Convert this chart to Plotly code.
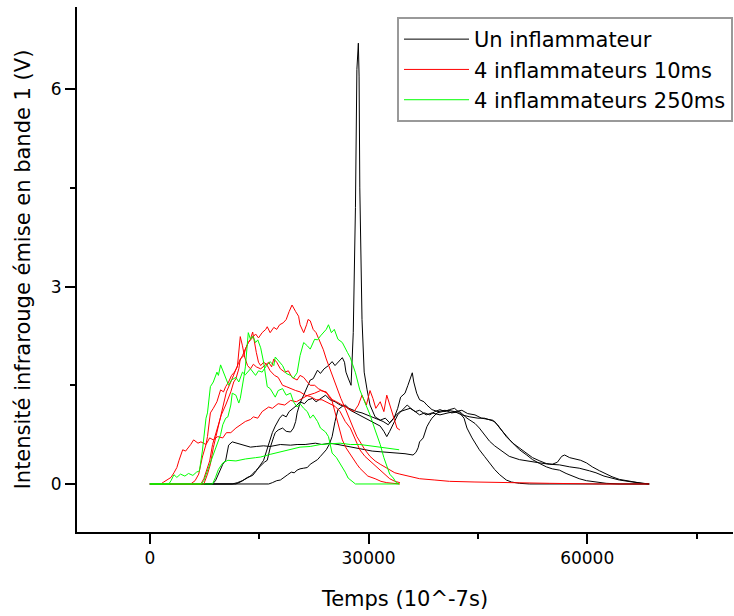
import plotly.graph_objects as go

# ---------------- data (time in 10^-7 s, intensity in V) ----------------
# "Un inflammateur" (black) - four runs
t_black1 = [0, 11800, 12400, 13100, 13800, 14500, 15200, 15700, 16100, 16500, 17000, 17200, 17600, 18200, 18700, 19300, 19700, 20000, 20200, 20600, 21100, 21500, 22000, 22400, 23000, 23400, 23900, 24500, 25000, 25400, 25800, 26400, 26700, 26900, 27200, 27600, 27900, 28200, 28400, 28600, 28700, 28800, 29100, 29400, 29800, 30200, 30900, 31600, 32300, 32900, 33500, 34000, 34400, 35000, 35400, 36000, 36200, 36600, 37000, 37600, 38000, 38700, 39500, 40500, 41400, 42500, 43500, 44600, 45200, 45900, 46600, 47300, 48000, 49300, 50700, 52100, 53500, 54800, 56200, 57600, 58900, 60300, 61200, 62300, 63400, 64400, 66200, 67400, 68500]
v_black1 = [0, 0, 0.03, 0.08, 0.12, 0.2, 0.28, 0.33, 0.36, 0.55, 0.72, 0.78, 0.82, 0.85, 0.8, 0.79, 0.85, 0.95, 1.08, 1.23, 1.35, 1.45, 1.58, 1.6, 1.73, 1.68, 1.75, 1.8, 1.86, 1.8, 1.85, 1.92, 1.85, 1.7, 1.61, 1.5, 2.3, 4.2, 6.3, 6.7, 6.2, 4.5, 2.5, 1.7, 1.43, 1.2, 1.02, 0.97, 1.0, 0.93, 1.0, 1.15, 1.32, 1.38, 1.5, 1.69, 1.55, 1.38, 1.28, 1.25, 1.2, 1.13, 1.1, 1.12, 1.08, 1.1, 1.0, 0.92, 0.85, 0.75, 0.65, 0.58, 0.52, 0.42, 0.37, 0.34, 0.32, 0.3, 0.29, 0.26, 0.24, 0.2, 0.17, 0.12, 0.09, 0.06, 0.03, 0.01, 0]

t_black2 = [0, 16300, 16800, 17400, 17900, 18500, 18900, 19400, 19800, 20200, 20600, 21100, 21600, 22000, 22400, 23000, 23400, 23800, 24200, 24600, 25000, 25400, 25800, 26400, 26800, 27300, 27900, 28400, 29100, 29800, 30500, 31300, 32000, 32700, 33200, 33800, 34300, 35000, 35700, 36400, 37000, 37700, 38400, 39100, 39800, 40500, 41100, 41800, 42500, 43100, 43500, 44200, 44700, 45200, 45900, 46600, 47300, 48000, 48500, 48900, 49600, 50700, 52100, 68500]
v_black2 = [0, 0, 0.02, 0.05, 0.06, 0.1, 0.14, 0.18, 0.17, 0.21, 0.23, 0.24, 0.25, 0.3, 0.33, 0.37, 0.42, 0.47, 0.52, 0.6, 0.72, 0.95, 1.13, 1.18, 1.2, 1.15, 1.12, 1.1, 1.08, 1.05, 1.02, 0.98, 0.95, 0.9, 0.97, 1.05, 1.1, 1.12, 1.15, 1.1, 1.05, 1.08, 1.05, 1.1, 1.13, 1.1, 1.13, 1.15, 1.08, 1.0, 0.85, 0.7, 0.6, 0.52, 0.42, 0.32, 0.22, 0.14, 0.09, 0.06, 0.03, 0.01, 0, 0]

t_black3 = [0, 11300, 12000, 12700, 13400, 14100, 14600, 15200, 15600, 16000, 16400, 16800, 17200, 17800, 18200, 18700, 19100, 19700, 20200, 20600, 21200, 21700, 22300, 22800, 23400, 24100, 24700, 25400, 26100, 26800, 27500, 28200, 28800, 29500, 30200, 30900, 31600, 32100, 32500, 32900, 33500, 34000, 34600, 35300, 35800, 36400, 37000, 37900, 38700, 39800, 40900, 41800, 42800, 43600, 44600, 45500, 46300, 47000, 47700, 48400, 48900, 49800, 50700, 51700, 52500, 53500, 54400, 55200, 56200, 57100, 58000, 58900, 59900, 61000, 62600, 64400, 68500]
v_black3 = [0, 0, 0.02, 0.05, 0.1, 0.13, 0.2, 0.3, 0.36, 0.5, 0.65, 0.78, 0.88, 1.0, 1.05, 1.02, 1.1, 1.15, 1.2, 1.25, 1.22, 1.28, 1.3, 1.25, 1.3, 1.35, 1.28, 1.25, 1.2, 1.18, 1.12, 1.08, 1.05, 1.0, 0.97, 0.92, 0.88, 0.8, 0.72, 0.8, 0.95, 1.05, 1.12, 1.2, 1.15, 1.1, 1.12, 1.05, 1.08, 1.05, 1.08, 1.1, 1.12, 1.07, 1.05, 1.0, 0.98, 0.97, 0.9, 0.8, 0.72, 0.62, 0.52, 0.44, 0.37, 0.31, 0.26, 0.23, 0.21, 0.16, 0.12, 0.08, 0.05, 0.03, 0.01, 0, 0]

t_black4 = [0, 8600, 9000, 9400, 10000, 10400, 10800, 11300, 11900, 12400, 13100, 13800, 14600, 15600, 16500, 17900, 19300, 20200, 21300, 22700, 23600, 24700, 25800, 26800, 27900, 29300, 30500, 31600, 32900, 33900, 35000, 36100, 36500, 36800, 37000, 37500, 38000, 38400, 38700, 39400, 40100, 40900, 41800, 42800, 43900, 45000, 45900, 46600, 47300, 48000, 48700, 49300, 49800, 50700, 51700, 52500, 53500, 54400, 55200, 55900, 56500, 56900, 57600, 58200, 59100, 59900, 60700, 61700, 62600, 63400, 64400, 65300, 66400, 67500, 68500]
v_black4 = [0, 0, 0.05, 0.15, 0.3, 0.36, 0.59, 0.64, 0.62, 0.6, 0.58, 0.56, 0.57, 0.58, 0.57, 0.6, 0.59, 0.6, 0.6, 0.62, 0.6, 0.62, 0.6, 0.58, 0.56, 0.53, 0.5, 0.49, 0.48, 0.47, 0.46, 0.44, 0.48, 0.55, 0.64, 0.7, 0.87, 0.95, 1.0, 1.08, 1.1, 1.12, 1.1, 1.05, 1.02, 1.0, 1.0, 0.98, 0.95, 0.85, 0.75, 0.68, 0.62, 0.55, 0.47, 0.4, 0.35, 0.31, 0.3, 0.33, 0.42, 0.44, 0.4, 0.38, 0.36, 0.32, 0.26, 0.2, 0.15, 0.11, 0.07, 0.05, 0.03, 0.01, 0]

# "4 inflammateurs 10ms" (red) - four runs
t_red1 = [0, 1500, 1900, 2500, 2900, 3300, 3700, 4000, 4200, 4500, 4900, 5300, 5600, 6000, 6600, 7000, 7700, 8200, 8700, 9300, 10000, 10500, 11100, 11800, 12400, 13100, 13800, 14200, 14800, 15400, 16300, 16800, 17600, 18500, 19300, 20100, 20900, 21700, 22600, 23400, 24200, 24700, 25600, 26400, 27200, 28000, 28600, 29100, 29700, 30200, 30600, 31000, 31600, 32100, 32500, 32900, 33500, 33900, 34300]
v_red1 = [0, 0, 0.03, 0.08, 0.1, 0.17, 0.25, 0.36, 0.42, 0.52, 0.5, 0.55, 0.6, 0.67, 0.62, 0.64, 0.6, 0.7, 0.67, 0.72, 0.7, 0.78, 0.78, 0.85, 0.9, 0.95, 0.98, 1.02, 1.0, 1.1, 1.17, 1.15, 1.22, 1.2, 1.27, 1.25, 1.3, 1.35, 1.38, 1.42, 1.4, 1.3, 1.25, 1.2, 1.15, 1.1, 1.2, 1.35, 1.2, 1.42, 1.3, 1.15, 1.25, 1.1, 1.35, 1.2, 1.0, 0.85, 0.82]

t_red2 = [0, 5600, 6200, 6700, 7200, 7700, 7900, 8300, 8700, 9200, 9700, 10100, 10400, 10800, 11200, 11600, 12000, 12300, 12400, 12700, 13000, 13400, 13800, 14200, 14600, 15200, 15700, 16300, 16700, 17000, 17400, 17900, 18500, 19000, 19500, 20200, 20600, 21100, 21600, 22000, 22600, 23100, 23600, 24300, 24900, 25400, 25800, 26400, 26900, 27500, 28000, 28400, 28800, 29300, 29900, 30900, 31700, 32500, 33200, 34300]
v_red2 = [0, 0, 0.05, 0.15, 0.41, 0.6, 0.72, 1.08, 1.15, 1.25, 1.43, 1.4, 1.48, 1.55, 1.65, 1.7, 1.78, 2.1, 2.24, 2.1, 1.93, 1.8, 1.75, 1.82, 1.78, 1.75, 1.8, 1.85, 1.78, 1.9, 1.85, 1.75, 1.7, 1.72, 1.62, 1.58, 1.65, 1.62, 1.55, 1.5, 1.5, 1.45, 1.42, 1.38, 1.3, 1.1, 0.9, 0.67, 0.55, 0.45, 0.35, 0.3, 0.24, 0.18, 0.12, 0.08, 0.04, 0.02, 0.01, 0]

t_red3 = [0, 7000, 7400, 7800, 8200, 8600, 9000, 9400, 9800, 10400, 10800, 11100, 11500, 11800, 12200, 12400, 12900, 13100, 13500, 13800, 14100, 14400, 14600, 14900, 15200, 15600, 16000, 16500, 17100, 17600, 18200, 18700, 19300, 20000, 20600, 21300, 22000, 22800, 23600, 24200, 24700, 25400, 26100, 26800, 27500, 28200, 28800, 29500, 30200, 30900, 31600, 32300, 32900, 33600, 34300]
v_red3 = [0, 0, 0.08, 0.2, 0.35, 0.6, 0.75, 0.9, 1.05, 1.2, 1.3, 1.4, 1.55, 1.6, 1.75, 1.9, 1.95, 2.05, 2.15, 2.2, 2.31, 2.1, 2.0, 1.85, 1.8, 1.85, 1.82, 1.72, 1.65, 1.62, 1.5, 1.48, 1.45, 1.42, 1.4, 1.35, 1.33, 1.28, 1.28, 1.25, 1.22, 1.18, 1.1, 0.95, 0.85, 0.68, 0.52, 0.42, 0.35, 0.27, 0.2, 0.13, 0.08, 0.04, 0.02]

t_red4 = [0, 7400, 7900, 8300, 8700, 9200, 9600, 10100, 10500, 11100, 11600, 12200, 12700, 13100, 13500, 13900, 14500, 14900, 15400, 15900, 16100, 16500, 17000, 17400, 17800, 18300, 18700, 19100, 19500, 20000, 20400, 20600, 21100, 21500, 21700, 22000, 22400, 22800, 23400, 23800, 24200, 24700, 25200, 25700, 26200, 26800, 27300, 27900, 28400, 29000, 29500, 30200, 30900, 31600, 32300, 32900, 33600, 34300, 35700, 37000, 39100, 41100, 44600, 48000, 54800, 61700, 68500]
v_red4 = [0, 0, 0.15, 0.3, 0.55, 0.8, 1.0, 1.25, 1.4, 1.55, 1.7, 1.85, 1.95, 2.05, 2.15, 2.2, 2.28, 2.22, 2.3, 2.35, 2.39, 2.3, 2.38, 2.35, 2.42, 2.45, 2.5, 2.62, 2.72, 2.62, 2.55, 2.42, 2.3, 2.42, 2.5, 2.48, 2.35, 2.3, 2.15, 2.04, 1.9, 1.75, 1.58, 1.45, 1.3, 1.15, 1.0, 0.85, 0.72, 0.6, 0.52, 0.42, 0.35, 0.3, 0.25, 0.21, 0.17, 0.15, 0.11, 0.08, 0.06, 0.04, 0.03, 0.02, 0.01, 0, 0]

# "4 inflammateurs 250ms" (green) - three runs
t_green1 = [0, 2600, 2900, 3300, 3700, 4200, 4800, 5300, 5900, 6400, 6800, 7200, 7700, 7900, 8300, 8700, 9200, 9400, 9700, 10100, 10400, 10800, 11200, 11800, 12200, 12700, 13100, 13800, 14500, 14900, 15400, 16000, 16500, 17000, 17200, 17800, 18200, 18700, 19300, 19700, 20200, 20600, 21100, 21600, 22000, 22600, 23000, 23400, 23800, 24200, 24500, 24900, 25300, 25800, 26400, 26800, 27100, 27500, 28200, 28800, 29500, 30200, 30900, 31600, 32100, 32500, 32900, 33400, 33800, 34200]
v_green1 = [0, 0, 0.05, 0.14, 0.1, 0.15, 0.12, 0.16, 0.13, 0.18, 0.2, 0.5, 1.0, 1.08, 1.48, 1.55, 1.7, 1.65, 1.81, 1.7, 1.63, 1.5, 1.58, 1.62, 1.55, 1.7, 1.66, 1.75, 1.65, 1.72, 1.7, 1.8, 1.86, 1.8, 1.93, 1.85, 1.8, 1.68, 1.65, 1.61, 1.69, 1.95, 2.15, 2.1, 2.05, 2.2, 2.19, 2.25, 2.3, 2.35, 2.42, 2.3, 2.35, 2.2, 2.15, 2.05, 2.0, 1.92, 1.69, 1.43, 1.25, 1.05, 0.82, 0.6, 0.4, 0.26, 0.15, 0.09, 0.02, 0]

t_green2 = [0, 7000, 7400, 7900, 8300, 8700, 9300, 9700, 10000, 10400, 10700, 11100, 11300, 11800, 12200, 12400, 12900, 13100, 13500, 13800, 14100, 14500, 14800, 15200, 15600, 16100, 16500, 17000, 17200, 17600, 18200, 18700, 19300, 19700, 20200, 20600, 21100, 21600, 22000, 22400, 23000, 23400, 24100, 24500, 25000, 25600, 26400, 26800, 27200, 27800, 28200, 34200]
v_green2 = [0, 0, 0.05, 0.2, 0.3, 0.45, 0.6, 0.75, 0.9, 1.0, 1.02, 1.2, 1.38, 1.35, 1.23, 1.3, 1.63, 1.78, 2.3, 2.2, 2.25, 2.15, 2.19, 2.07, 1.85, 1.48, 1.45, 1.35, 1.32, 1.42, 1.45, 1.35, 1.38, 1.25, 1.17, 1.22, 1.15, 1.1, 1.0, 1.05, 0.95, 0.85, 0.79, 0.72, 0.47, 0.4, 0.26, 0.18, 0.09, 0.03, 0, 0]

t_green3 = [0, 8600, 9000, 9400, 10000, 10700, 11800, 13100, 14500, 15200, 16500, 17900, 19300, 20600, 22000, 23400, 24700, 26100, 27500, 28800, 30200, 31600, 32900, 34200]
v_green3 = [0, 0, 0.1, 0.22, 0.32, 0.36, 0.35, 0.38, 0.4, 0.41, 0.45, 0.49, 0.52, 0.56, 0.57, 0.6, 0.61, 0.62, 0.6, 0.6, 0.58, 0.56, 0.55, 0.52]

series = [
    ("Un inflammateur", "#000000", [(t_black1, v_black1), (t_black2, v_black2), (t_black3, v_black3), (t_black4, v_black4)]),
    ("4 inflammateurs 10ms", "#ff0000", [(t_red1, v_red1), (t_red2, v_red2), (t_red3, v_red3), (t_red4, v_red4)]),
    ("4 inflammateurs 250ms", "#00ff00", [(t_green1, v_green1), (t_green2, v_green2), (t_green3, v_green3)]),
]

x_ticks = [0, 30000, 60000]
x_minor = [15000, 45000, 75000]
y_ticks = [0, 3, 6]
y_minor = [1.5, 4.5]

FONT = "DejaVu Sans"
W, H = 734, 616

fig = go.Figure()
for name, color, runs in series:
    for i, (t, v) in enumerate(runs):
        fig.add_trace(go.Scatter(
            x=t, y=v, mode="lines", name=name, legendgroup=name,
            showlegend=(i == 0), line=dict(color=color, width=1)))

axis_common = dict(
    showline=True, linecolor="black", linewidth=2, showgrid=False, zeroline=False,
    ticks="outside", ticklen=10, tickwidth=1.5, tickcolor="black",
    tickfont=dict(family=FONT, size=17, color="black"), automargin=False,
)

fig.update_layout(
    width=W, height=H, autosize=False,
    margin=dict(l=77, r=1, t=7, b=84),
    paper_bgcolor="white", plot_bgcolor="white",
    font=dict(family=FONT, color="black"),
    xaxis=dict(range=[-10000, 80000], tickmode="array", tickvals=x_ticks,
               ticktext=[str(v) for v in x_ticks],
               minor=dict(tickmode="array", tickvals=x_minor, ticks="outside", ticklen=5,
                          tickwidth=1.5, tickcolor="black", showgrid=False),
               title=dict(text="Temps (10^-7s)", font=dict(family=FONT, size=21), standoff=24),
               **axis_common),
    yaxis=dict(range=[-0.73, 7.25], tickmode="array", tickvals=y_ticks,
               ticktext=[str(v) for v in y_ticks],
               minor=dict(tickmode="array", tickvals=y_minor, ticks="outside", ticklen=5,
                          tickwidth=1.5, tickcolor="black", showgrid=False),
               title=dict(text="Intensité infrarouge émise en bande 1 (V)",
                          font=dict(family=FONT, size=21), standoff=14),
               **axis_common),
    legend=dict(x=1.0, y=0.981, xanchor="right", yanchor="top",
                font=dict(family=FONT, size=21, color="black"),
                bordercolor="#999999", borderwidth=2, bgcolor="white",
                itemwidth=65, tracegroupgap=0),
    showlegend=True,
)

post = ("document.body.style.margin='0';document.body.style.padding='0';"
        "document.body.style.overflow='hidden';"
        "var gd=document.getElementById('{plot_id}');"
        "Plotly.relayout(gd,{width:%d,height:%d});" % (W, H))

fig.write_html("out.html", config={"responsive": False, "displayModeBar": False},
               post_script=post)
